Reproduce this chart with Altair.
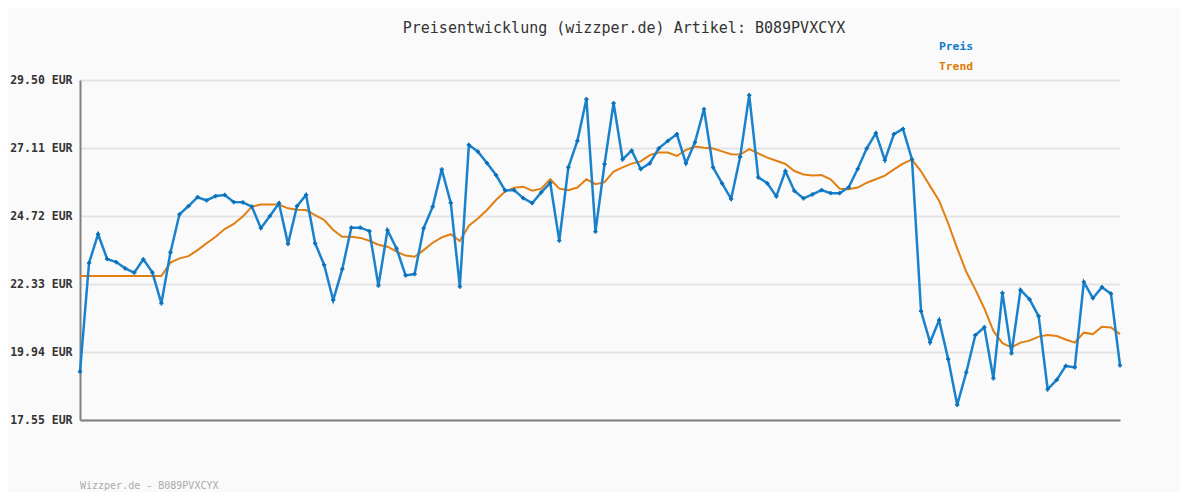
import altair as alt
import pandas as pd

preis = [19.25, 23.07, 24.08, 23.21, 23.10, 22.88, 22.73, 23.20, 22.74, 21.65,
         23.44, 24.78, 25.07, 25.38, 25.27, 25.42, 25.46, 25.21, 25.20, 25.05,
         24.29, 24.72, 25.17, 23.74, 25.07, 25.46, 23.76, 23.00, 21.76, 22.85,
         24.31, 24.31, 24.19, 22.27, 24.22, 23.58, 22.63, 22.68, 24.29, 25.05,
         26.36, 25.18, 22.24, 27.22, 26.98, 26.58, 26.16, 25.62, 25.63, 25.35,
         25.17, 25.55, 25.88, 23.85, 26.43, 27.36, 28.83, 24.17, 26.54, 28.69,
         26.71, 27.02, 26.37, 26.57, 27.10, 27.36, 27.60, 26.57, 27.31, 28.48,
         26.43, 25.87, 25.32, 26.80, 28.97, 26.08, 25.87, 25.41, 26.30, 25.60,
         25.34, 25.48, 25.63, 25.52, 25.52, 25.73, 26.38, 27.10, 27.63, 26.68,
         27.60, 27.78, 26.71, 21.38, 20.28, 21.06, 19.69, 18.08, 19.22, 20.53,
         20.81, 19.01, 22.02, 19.89, 22.12, 21.79, 21.20, 18.63, 18.96, 19.45,
         19.40, 22.40, 21.83, 22.22, 21.99, 19.47]

trend = [22.61, 22.61, 22.61, 22.61, 22.61, 22.61, 22.61, 22.61, 22.61, 22.61,
         23.08, 23.23, 23.31, 23.52, 23.76, 23.99, 24.26, 24.44, 24.70, 25.05,
         25.12, 25.12, 25.12, 24.99, 24.94, 24.93, 24.75, 24.58, 24.23, 23.99,
         23.99, 23.95, 23.85, 23.71, 23.64, 23.47, 23.33, 23.29, 23.52, 23.78,
         23.97, 24.08, 23.84, 24.38, 24.63, 24.93, 25.28, 25.58, 25.71, 25.75,
         25.61, 25.68, 26.01, 25.68, 25.63, 25.72, 26.01, 25.84, 25.91, 26.28,
         26.43, 26.56, 26.64, 26.86, 26.95, 26.95, 26.83, 27.04, 27.16, 27.12,
         27.09, 26.99, 26.89, 26.88, 27.07, 26.92, 26.77, 26.66, 26.55, 26.30,
         26.18, 26.14, 26.16, 26.01, 25.68, 25.66, 25.72, 25.89, 26.01, 26.14,
         26.36, 26.56, 26.70, 26.29, 25.77, 25.26, 24.46, 23.58, 22.76, 22.14,
         21.47, 20.68, 20.25, 20.10, 20.27, 20.34, 20.48, 20.54, 20.50, 20.38,
         20.27, 20.62, 20.57, 20.83, 20.80, 20.57]

y_ticks = [17.55, 19.94, 22.33, 24.72, 27.11, 29.50]

title_text = "Preisentwicklung (wizzper.de) Artikel: B089PVXCYX"
footer_text = "Wizzper.de - B089PVXCYX"
legend_labels = ["Preis", "Trend"]

BLUE = "#1a82cc"
BLUE_TXT = "#0b78c8"
ORANGE = "#e17f12"
ORANGE_TXT = "#dc7a00"
MONO = "DejaVu Sans Mono"

df = pd.DataFrame({"i": list(range(len(preis))), "preis": preis, "trend": trend})

xs = alt.X("i:Q", scale=alt.Scale(domain=[0, len(preis) - 1], nice=False, zero=False),
           axis=alt.Axis(labels=False, ticks=False, grid=False, title=None,
                         domainColor="#808080", domainWidth=2))
ys = alt.Y("preis:Q", scale=alt.Scale(domain=[17.55, 29.50], nice=False, zero=False),
           axis=alt.Axis(values=y_ticks, title=None, ticks=False,
                         labelExpr="format(datum.value, '.2f') + ' EUR'",
                         labelFont=MONO, labelFontSize=11.5, labelFontWeight="bold",
                         labelColor="#333333", labelPadding=8,
                         grid=True, gridColor="#e3e3e3", gridWidth=2,
                         domainColor="#808080", domainWidth=2))

base = alt.Chart(df)

trend_line = base.mark_line(color=ORANGE, strokeWidth=2).encode(
    x=xs, y=alt.Y("trend:Q", scale=alt.Scale(domain=[17.55, 29.50], nice=False, zero=False)))
preis_line = base.mark_line(color=BLUE, strokeWidth=2.5).encode(x=xs, y=ys)
preis_pts = base.mark_point(shape="cross", filled=True, color="#0a6fb8", size=18, opacity=1).encode(
    x="i:Q", y="preis:Q")

tdf = pd.DataFrame({"t": [title_text]})
title = alt.Chart(tdf).mark_text(font=MONO, fontSize=15, color="#333333", align="center",
                                 baseline="middle").encode(
    text="t:N", x=alt.value(544), y=alt.value(-52))

leg1 = alt.Chart(pd.DataFrame({"t": [legend_labels[0]]})).mark_text(
    font=MONO, fontSize=11.3, fontWeight="bold", color=BLUE_TXT, align="left", baseline="middle").encode(
    text="t:N", x=alt.value(859), y=alt.value(-33))
leg2 = alt.Chart(pd.DataFrame({"t": [legend_labels[1]]})).mark_text(
    font=MONO, fontSize=11.3, fontWeight="bold", color=ORANGE_TXT, align="left", baseline="middle").encode(
    text="t:N", x=alt.value(859), y=alt.value(-13))

footer = alt.Chart(pd.DataFrame({"t": [footer_text]})).mark_text(
    font=MONO, fontSize=10, color="#aaaaaa", align="left", baseline="middle").encode(
    text="t:N", x=alt.value(0), y=alt.value(406))

chart = alt.layer(trend_line, preis_line, preis_pts, title, leg1, leg2, footer).properties(
    width=1040, height=340,
    autosize=alt.AutoSizeParams(type="none"),
    padding={"left": 72, "top": 72, "right": 60, "bottom": 72},
    background="#fafafa",
).configure_view(stroke=None)

chart.save("out.html", embed_options={"renderer": "svg", "actions": False})
